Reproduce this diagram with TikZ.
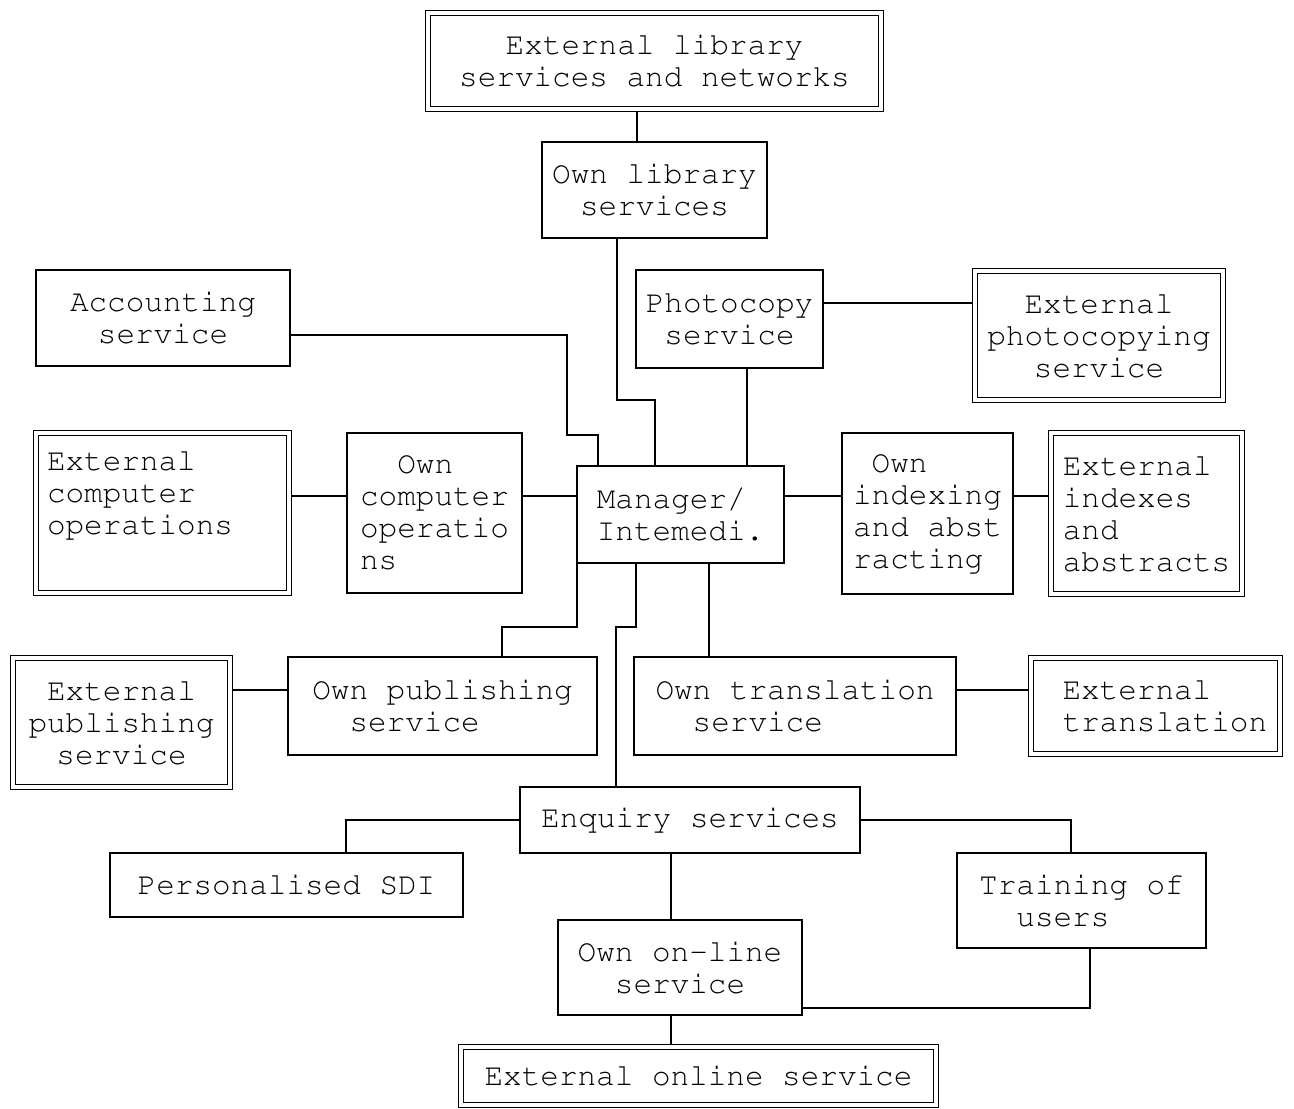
\documentclass[tikz,border=0pt]{standalone}
\usepackage[T1]{fontenc}
\usepackage{courier}
\usepackage{tikz}
\usetikzlibrary{positioning,calc}
\pgfdeclarelayer{bg}
\pgfsetlayers{bg,main}
\tikzset{
  unit/.style = {draw, line width = 1.7pt, inner sep = 0pt, align = center,
                 font = \ttfamily\fontsize{31}{32}\selectfont},
  extunit/.style = {unit, double, double distance = 3.6pt, line width = 1.6pt},
  link/.style = {line width = 1.7pt},
}

\begin{document}
\begin{tikzpicture}[x = 1pt, y = -1pt]
    \useasboundingbox (0,0) rectangle (1294,1109);
    % library row
    \node[extunit, minimum width = 453pt, minimum height = 96pt] (extlib) at (654.5,61) {External library\\services and networks};
    \node[unit, minimum width = 225pt, minimum height = 96pt] (ownlib) at (654.5,190) {Own library\\services};
    \node[unit, minimum width = 254pt, minimum height = 96pt] (acct) at (163,318) {Accounting\\service};
    \node[unit, minimum width = 187pt, minimum height = 98pt] (photo) at (729.5,319) {Photocopy\\service};
    \node[extunit, minimum width = 248pt, minimum height = 129pt] (extphoto) at (1099,335.5) {External\\photocopying\\service};
    % middle row
    \node[extunit, align = left, text width = 231pt, inner xsep = 11pt, minimum height = 160pt] (extcomp) at (162.5,513) {External\\computer\\operations\\\strut};
    \node[unit, align = left, minimum width = 175pt, minimum height = 160pt] (owncomp) at (434.5,513) {\hspace*{1.2em}Own\\computer\\operatio\\ns};
    \node[unit, align = left, minimum width = 207pt, minimum height = 97pt] (mgr) at (680.5,514.5) {Manager/\\Intemedi.};
    \node[unit, align = left, minimum width = 171pt, minimum height = 161pt] (ownidx) at (927.5,513.5) {\hspace*{0.6em}Own\\indexing\\and abst\\racting};
    \node[extunit, align = left, minimum width = 191pt, minimum height = 161pt] (extidx) at (1146.5,513.5) {External\\indexes\\and\\abstracts};
    % publishing and translation
    \node[extunit, minimum width = 217pt, minimum height = 129pt] (extpub) at (121.5,722.5) {External\\publishing\\service};
    \node[unit, align = left, minimum width = 309pt, minimum height = 98pt] (ownpub) at (442.5,706) {Own publishing\\\hspace*{1.2em}service};
    \node[unit, align = left, minimum width = 322pt, minimum height = 98pt] (owntrans) at (795,706) {Own translation\\\hspace*{1.2em}service};
    \node[extunit, align = left, minimum width = 249pt, minimum height = 96pt] (exttrans) at (1155.5,706) {\hspace*{0.6em}External\\\hspace*{0.6em}translation};
    % enquiry part
    \node[unit, minimum width = 340pt, minimum height = 66pt] (enq) at (690,820) {Enquiry services};
    \node[unit, minimum width = 353pt, minimum height = 64pt] (sdi) at (286.5,885) {Personalised SDI};
    \node[unit, align = left, minimum width = 249pt, minimum height = 95pt] (train) at (1081.5,900.5) {Training of\\\hspace*{1.2em}users};
    \node[unit, align = left, minimum width = 244pt, minimum height = 95pt] (ownonl) at (680,967.5) {Own on-line\\\hspace*{1.2em}service};
    \node[extunit, minimum width = 475pt, minimum height = 58pt] (extonl) at (698.5,1076) {External online service};

    \begin{pgfonlayer}{bg}
    \draw[link] (extlib.south -| 637,0) -- (ownlib.north -| 637,0);
    \draw[link] (ownlib.south -| 617,0) -- (617,400) -| (mgr.north -| 655,0);
    \draw[link] (acct.east |- 0,335) -| (567,435) -| (mgr.north -| 598,0);
    \draw[link] (photo.south -| 747,0) -- (mgr.north -| 747,0);
    \draw[link] (photo.east |- 0,303) -- (extphoto.west |- 0,303);
    \draw[link] (extcomp.east |- 0,496) -- (owncomp.west |- 0,496);
    \draw[link] (owncomp.east |- 0,496) -- (mgr.west |- 0,496);
    \draw[link] (mgr.east |- 0,496) -- (ownidx.west |- 0,496);
    \draw[link] (ownidx.east |- 0,496) -- (extidx.west |- 0,496);
    \draw[link] (mgr.south -| 577,0) -- (577,627) -| (ownpub.north -| 502,0);
    \draw[link] (mgr.south -| 636,0) -- (636,627) -| (enq.north -| 616,0);
    \draw[link] (mgr.south -| 709,0) -- (owntrans.north -| 709,0);
    \draw[link] (extpub.east |- 0,690) -- (ownpub.west |- 0,690);
    \draw[link] (owntrans.east |- 0,690) -- (exttrans.west |- 0,690);
    \draw[link] (enq.west) -| (sdi.north -| 346,0);
    \draw[link] (enq.east) -| (train.north -| 1071,0);
    \draw[link] (enq.south -| 671,0) -- (ownonl.north -| 671,0);
    \draw[link] (ownonl.east |- 0,1008) -| (train.south -| 1090,0);
    \draw[link] (ownonl.south -| 671,0) -- (extonl.north -| 671,0);
    \end{pgfonlayer}
\end{tikzpicture}
\end{document}
